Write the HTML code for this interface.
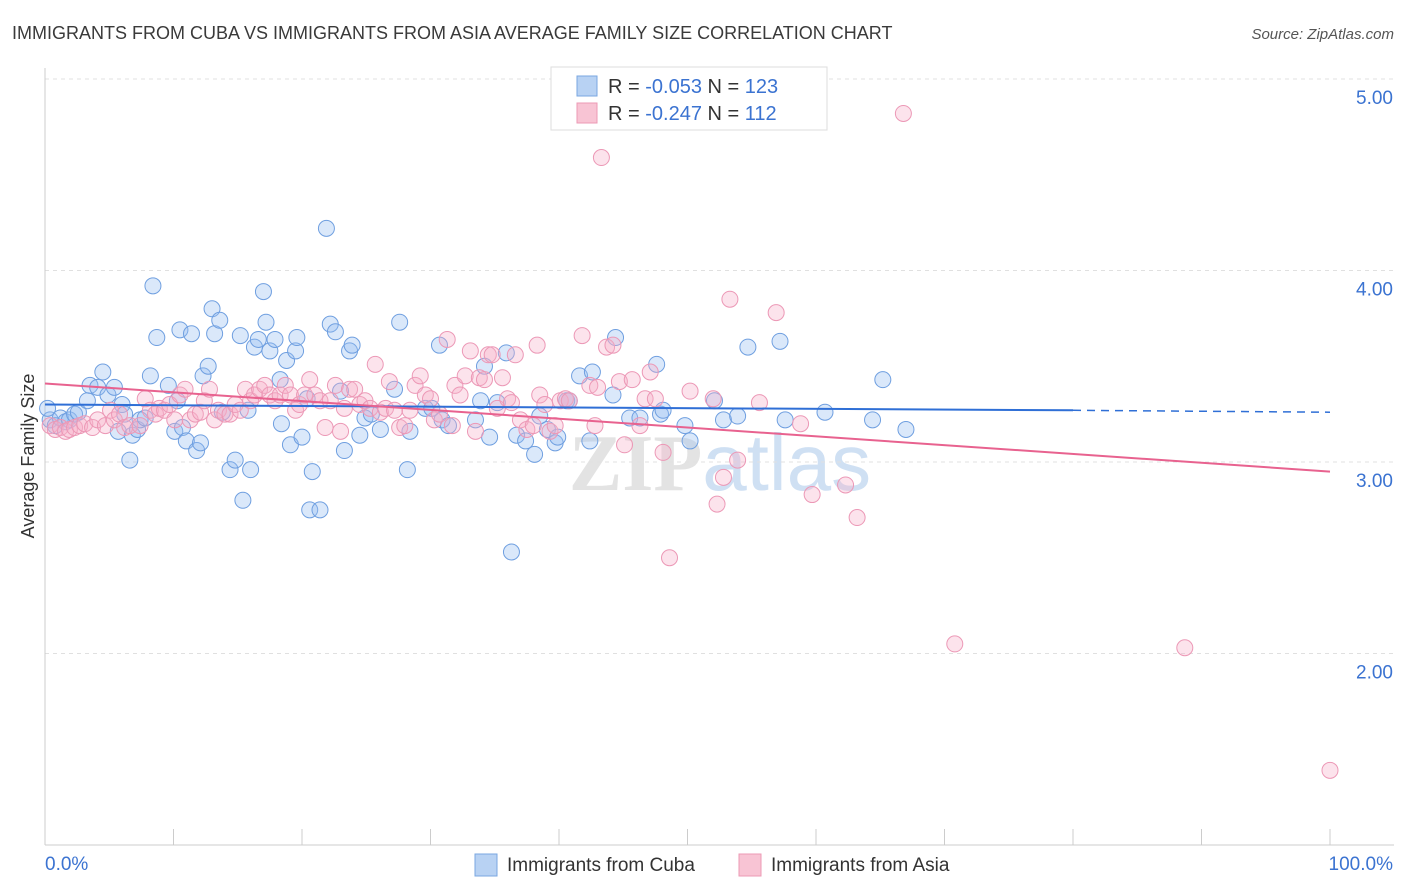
<!DOCTYPE html>
<html><head><meta charset="utf-8"><style>
body{margin:0;background:#fff;font-family:"Liberation Sans",sans-serif;}
#wrap{position:relative;width:1406px;height:892px;overflow:hidden;}
</style></head><body>
<div id="wrap">
<svg id="chart" width="1406" height="892">
<text x="12" y="39" font-size="18" fill="#3a3a3a">IMMIGRANTS FROM CUBA VS IMMIGRANTS FROM ASIA AVERAGE FAMILY SIZE CORRELATION CHART</text>
<text x="1394" y="39" font-size="15" fill="#555" font-style="italic" text-anchor="end">Source: ZipAtlas.com</text>
<text x="720" y="490" font-size="80" fill="#e3e3e3" text-anchor="middle" font-family="Liberation Serif,serif" font-weight="bold">ZIP<tspan fill="#cfe0f3" font-family="Liberation Sans,sans-serif" font-weight="normal">atlas</tspan></text>
<text transform="translate(34,456) rotate(-90)" font-size="18" fill="#333" text-anchor="middle">Average Family Size</text>
<g id="grid"></g><g id="axes"></g><g id="pts"></g><g id="lines"></g>
<g>
<rect x="551" y="67" width="276" height="63" fill="#fff" stroke="#ddd"/>
<rect x="577" y="76" width="20" height="20" fill="#b8d2f3" stroke="#7aa7e0"/>
<rect x="577" y="103" width="20" height="20" fill="#f8c4d4" stroke="#ec9ab5"/>
<text x="608" y="93" font-size="20" fill="#333">R = <tspan fill="#3b73d1">-0.053</tspan>   N = <tspan fill="#3b73d1">123</tspan></text>
<text x="608" y="120" font-size="20" fill="#333">R = <tspan fill="#3b73d1">-0.247</tspan>   N = <tspan fill="#3b73d1">112</tspan></text>
</g>
<g>
<rect x="475" y="854" width="22" height="22" fill="#b8d2f3" stroke="#7aa7e0"/>
<text x="507" y="871" font-size="19" fill="#333">Immigrants from Cuba</text>
<rect x="739" y="854" width="22" height="22" fill="#f8c4d4" stroke="#ec9ab5"/>
<text x="771" y="871" font-size="19" fill="#333">Immigrants from Asia</text>
</g>
</svg></div>
<script>
const yTicks=[2,3,4,5];
const yTickLabels=["2.00","3.00","4.00","5.00"];
const xTickCount=10;
const xEndLabels=["0.0%","100.0%"];
const cubaX=[0.4,0.8,1.2,1.6,1.9,2.3,2.6,3.3,3.5,4.1,4.5,4.9,5.4,5.7,6.0,6.2,6.6,6.8,7.2,7.4,7.8,8.2,8.4,8.7,9.6,10.1,10.3,10.5,10.7,11.0,11.4,11.8,12.1,12.3,12.7,13.0,13.2,13.6,13.8,14.4,14.8,15.2,15.4,15.8,16.0,16.3,16.6,17.0,17.2,17.5,17.9,18.3,18.4,18.8,19.1,19.5,19.6,20.0,20.4,20.8,20.6,21.4,21.9,22.2,22.6,23.0,23.3,23.7,23.9,24.5,24.9,25.4,26.1,27.2,27.6,28.2,28.4,29.6,30.1,30.7,30.9,31.4,33.5,33.9,34.2,34.6,35.2,35.9,36.3,36.7,37.4,38.1,38.5,39.1,39.7,39.9,40.6,40.8,41.6,42.4,42.6,44.2,44.4,45.5,46.3,47.6,47.9,48.1,49.8,50.2,52.1,52.8,53.9,54.7,57.2,57.6,60.7,64.4,65.2,67.0,0.2];
const cubaY=[3.22,3.19,3.23,3.21,3.22,3.25,3.26,3.32,3.40,3.39,3.47,3.35,3.39,3.16,3.30,3.25,3.01,3.14,3.17,3.22,3.23,3.45,3.92,3.65,3.40,3.16,3.32,3.69,3.18,3.11,3.67,3.06,3.10,3.45,3.50,3.80,3.67,3.74,3.26,2.96,3.01,3.66,2.80,3.27,2.96,3.60,3.64,3.89,3.73,3.58,3.64,3.43,3.20,3.53,3.09,3.58,3.65,3.13,3.33,2.95,2.75,2.75,4.22,3.72,3.68,3.37,3.06,3.58,3.61,3.14,3.23,3.25,3.17,3.38,3.73,2.96,3.16,3.28,3.28,3.61,3.22,3.19,3.22,3.32,3.50,3.13,3.31,3.57,2.53,3.14,3.11,3.04,3.24,3.17,3.10,3.13,3.32,3.32,3.45,3.11,3.47,3.35,3.65,3.23,3.23,3.51,3.25,3.27,3.19,3.11,3.32,3.22,3.24,3.60,3.63,3.22,3.26,3.22,3.43,3.17,3.28];
const asiaX=[0.4,0.8,1.2,1.6,1.9,2.3,2.7,3.1,3.7,4.1,4.7,5.1,5.4,5.8,6.2,6.6,7.4,7.8,8.2,8.6,8.9,9.3,9.7,10.1,10.5,10.9,11.3,11.7,12.1,12.4,12.8,13.2,13.5,14.0,14.4,14.8,15.2,15.6,16.0,16.3,16.7,17.1,17.5,17.9,18.3,18.7,19.1,19.5,19.8,20.2,20.6,21.0,21.4,21.8,22.2,22.6,23.0,23.3,23.7,24.1,24.5,24.9,25.3,25.7,26.1,26.5,26.8,27.2,27.6,28.0,28.4,28.8,29.2,29.6,30.0,30.3,30.7,31.3,31.7,31.9,32.3,32.7,33.1,33.5,33.8,34.2,34.5,34.8,35.2,35.6,36.0,36.3,36.6,37.0,37.5,38.0,38.3,38.5,38.9,39.3,39.7,40.1,40.5,40.8,41.8,42.4,42.8,43.0,43.3,43.7,44.2,44.7,45.1,45.7,46.3,46.7,47.1,47.5,48.1,48.6,50.2,52.0,52.3,52.8,53.3,53.9,55.6,56.9,58.8,59.7,62.3,63.2,66.8,70.8,88.7,100.0];
const asiaY=[3.19,3.17,3.18,3.16,3.17,3.18,3.19,3.20,3.18,3.22,3.19,3.27,3.22,3.25,3.18,3.19,3.19,3.33,3.27,3.25,3.28,3.27,3.30,3.22,3.35,3.38,3.22,3.25,3.26,3.32,3.38,3.22,3.27,3.25,3.25,3.30,3.27,3.38,3.32,3.35,3.38,3.40,3.35,3.32,3.35,3.40,3.35,3.27,3.30,3.35,3.43,3.35,3.32,3.18,3.32,3.40,3.16,3.28,3.38,3.38,3.30,3.32,3.28,3.51,3.26,3.28,3.42,3.27,3.18,3.19,3.27,3.40,3.45,3.35,3.33,3.22,3.25,3.64,3.19,3.40,3.35,3.45,3.58,3.16,3.44,3.43,3.56,3.56,3.28,3.44,3.33,3.31,3.56,3.22,3.17,3.19,3.61,3.35,3.30,3.16,3.19,3.32,3.33,3.32,3.66,3.40,3.19,3.39,4.59,3.60,3.61,3.42,3.09,3.43,3.19,3.33,3.47,3.33,3.05,2.50,3.37,3.33,2.78,2.92,3.85,3.01,3.31,3.78,3.20,2.83,2.88,2.71,4.82,2.05,2.03,1.39];
const cubaTrend=[3.30,3.27,3.26];   // at 0%, 80%, 100%
const asiaTrend=[3.41,2.95];        // at 0%, 100%
const NS="http://www.w3.org/2000/svg";
const X0=45,X1=1330,YB=845,PX=191.5;
function sx(v){return X0+(X1-X0)*v/100;}
function sy(v){return YB-(v-1)*PX;}
function mk(tag,attrs,parent){const e=document.createElementNS(NS,tag);for(const k in attrs)e.setAttribute(k,attrs[k]);parent.appendChild(e);return e;}
const grid=document.getElementById('grid'),axes=document.getElementById('axes'),pts=document.getElementById('pts'),lines=document.getElementById('lines');
yTicks.forEach((t,i)=>{
 const l=mk('line',{x1:45,x2:1394,y1:sy(t),y2:sy(t),stroke:'#e0e0e0','stroke-dasharray':'4,4'},grid);
 
 
 const tx=mk('text',{x:1393,y:sy(t)+25,'font-size':19,fill:'#3b73d1','text-anchor':'end'},axes);
 tx.textContent=yTickLabels[i];
 
 
});
const tg=mk('line',{x1:45,x2:1394,y1:79,y2:79,stroke:'#e0e0e0','stroke-dasharray':'4,4'},grid);


const ya=mk('line',{x1:45,x2:45,y1:68,y2:845,stroke:'#ccc'},axes);


const xa=mk('line',{x1:45,x2:1394,y1:845,y2:845,stroke:'#ccc'},axes);


for(let i=0;i<=xTickCount;i++){
 const t=mk('line',{x1:sx(i*10),x2:sx(i*10),y1:829,y2:845,stroke:'#ccc'},axes);
 
 
}
const xl0=mk('text',{x:45,y:870,'font-size':19,fill:'#3b73d1'},axes);xl0.textContent=xEndLabels[0];


const xl1=mk('text',{x:1393,y:870,'font-size':19,fill:'#3b73d1','text-anchor':'end'},axes);xl1.textContent=xEndLabels[1];


cubaX.forEach((x,i)=>{
 const c=mk('circle',{cx:sx(x),cy:sy(cubaY[i]),r:8,fill:'rgba(150,190,240,0.35)',stroke:'#6f9fe0','stroke-width':1},pts);
 
 
});
asiaX.forEach((x,i)=>{
 const c=mk('circle',{cx:sx(x),cy:sy(asiaY[i]),r:8,fill:'rgba(245,175,200,0.35)',stroke:'#ec98b6','stroke-width':1},pts);
 
 
});
const l1=mk('line',{x1:sx(0),y1:sy(cubaTrend[0]),x2:sx(80),y2:sy(cubaTrend[1]),stroke:'#2f6fd6','stroke-width':2},lines);


const l2=mk('line',{x1:sx(80),y1:sy(cubaTrend[1]),x2:sx(100),y2:sy(cubaTrend[2]),stroke:'#2f6fd6','stroke-width':1.5,'stroke-dasharray':'8,6'},lines);


const l3=mk('line',{x1:sx(0),y1:sy(asiaTrend[0]),x2:sx(100),y2:sy(asiaTrend[1]),stroke:'#e8628f','stroke-width':2},lines);


</script>
</body></html>
